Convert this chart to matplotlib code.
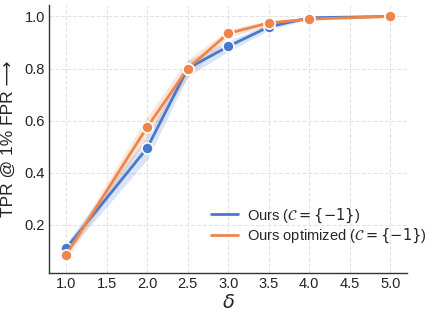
import numpy as np
import matplotlib.pyplot as plt
import seaborn as sns

sns.set_theme(style="whitegrid")
plt.rcParams['font.family'] = ['Liberation Sans', 'DejaVu Sans']

# data
delta = [1.0, 2.0, 2.5, 3.0, 3.5, 4.0, 5.0]
tpr_ours = [0.11, 0.495, 0.80, 0.885, 0.96, 0.995, 1.0]
tpr_opt = [0.085, 0.575, 0.80, 0.935, 0.975, 0.99, 1.0]
err_ours = [0.02, 0.045, 0.03, 0.02, 0.012, 0.005, 0.002]
err_opt = [0.02, 0.04, 0.035, 0.015, 0.01, 0.006, 0.002]

blue = '#4878d0'
orange = '#ee854a'

fig, ax = plt.subplots(figsize=(4.38, 3.15), dpi=100)

for y, e, c, lab in [(tpr_ours, err_ours, blue, r'Ours ($\mathcal{C}=\{-1\}$)'),
                     (tpr_opt, err_opt, orange, r'Ours optimized ($\mathcal{C}=\{-1\}$)')]:
    y = np.array(y)
    e = np.array(e)
    ax.fill_between(delta, y - e, y + e, color=c, alpha=0.2, linewidth=0)
    ax.plot(delta, y, color=c, lw=2, label=lab)
    ax.plot(delta, y, 'o', color=c, ms=8, mec='white', mew=1.2)

ax.set_xlim(0.79, 5.21)
ax.set_ylim(0.015, 1.045)
ax.set_xticks([1.0, 1.5, 2.0, 2.5, 3.0, 3.5, 4.0, 4.5, 5.0])
ax.set_yticks([0.2, 0.4, 0.6, 0.8, 1.0])
ax.tick_params(labelsize=10.5, pad=3, length=0, labelcolor='#222222')
ax.grid(True, ls='--', color='#e3e3e3', lw=0.8)
ax.set_xlabel(r'$\delta$', fontsize=14, labelpad=2)
ax.set_ylabel('TPR @ 1% FPR ⟶', fontsize=12.5, labelpad=6)
for s in ['top', 'right']:
    ax.spines[s].set_visible(False)
for s in ['left', 'bottom']:
    ax.spines[s].set_color('#333333')
    ax.spines[s].set_linewidth(1.0)

ax.legend(loc='lower right', bbox_to_anchor=(1.07, 0.082), borderaxespad=0,
          frameon=False, fontsize=10.5, handlelength=1.85, labelspacing=0.15,
          handletextpad=0.6)

fig.subplots_adjust(left=0.112, right=0.93, bottom=0.133, top=0.985)
fig.savefig('out.png', dpi=100)
